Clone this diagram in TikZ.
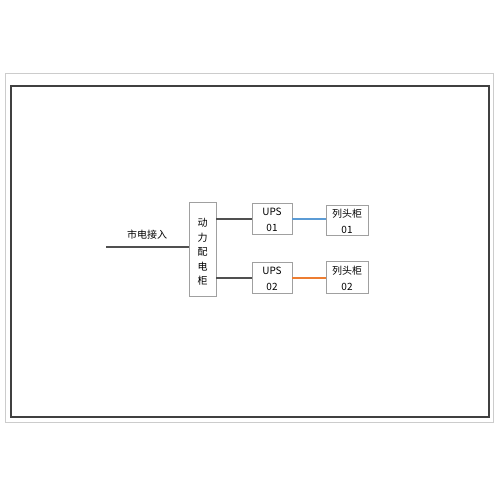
\documentclass[tikz,border=0pt]{standalone}
\usepackage{fontspec}
\setmainfont{Noto Sans CJK SC}
\definecolor{boxgray}{HTML}{A0A0A0}
\definecolor{linegray}{HTML}{505050}
\definecolor{frameout}{HTML}{CCCCCC}
\definecolor{framein}{HTML}{404040}
\definecolor{ublue}{HTML}{5B9BD5}
\definecolor{uorange}{HTML}{ED7D31}
\begin{document}
\begin{tikzpicture}[x=1pt,y=-1pt,
  box/.style={draw=boxgray,line width=0.8pt,fill=white},
  conn/.style={draw=linegray,line width=1.1pt},
  lbl/.style={font=\fontsize{10}{16}\selectfont,align=center,inner sep=0pt}]
\useasboundingbox (0,0) rectangle (500,500);
\fill[white] (0,0) rectangle (500,500);
\draw[frameout,line width=1pt] (5,74) rectangle (493,422);
\draw[framein,line width=1.1pt] (11,86) rectangle (489,417);
% boxes
\draw[box] (189,202) rectangle (216,296);
\node[lbl,font=\fontsize{10}{14.5}\selectfont] (pdg) at (202.5,252) {动\\力\\配\\电\\柜};
\draw[box] (252,203) rectangle (292,234);
\node[lbl] (ups1) at (272,220) {UPS\\01};
\draw[box] (252,262) rectangle (292,293);
\node[lbl] (ups2) at (272,278.5) {UPS\\02};
\draw[box] (326,205) rectangle (368,235);
\node[lbl] (lt1) at (347,221.5) {列头柜\\01};
\draw[box] (326,261) rectangle (368,293);
\node[lbl] (lt2) at (347,278.5) {列头柜\\02};
% coordinates
\coordinate (in0) at (106,247);
\coordinate (in1) at (189,247);
\coordinate (p1) at (216,219);
\coordinate (u1l) at (252,219);
\coordinate (p2) at (216,278);
\coordinate (u2l) at (252,278);
\coordinate (u1r) at (292,219);
\coordinate (l1l) at (326,219);
\coordinate (u2r) at (292,278);
\coordinate (l2l) at (326,278);
\draw[conn] (in0) -- (in1);
\node[lbl] (inlbl) at (147,235) {市电接入};
\draw[conn] (p1) -- (u1l);
\draw[conn] (p2) -- (u2l);
\draw[ublue,line width=1.1pt] (u1r) -- (l1l);
\draw[uorange,line width=1.1pt] (u2r) -- (l2l);
\end{tikzpicture}
\end{document}
